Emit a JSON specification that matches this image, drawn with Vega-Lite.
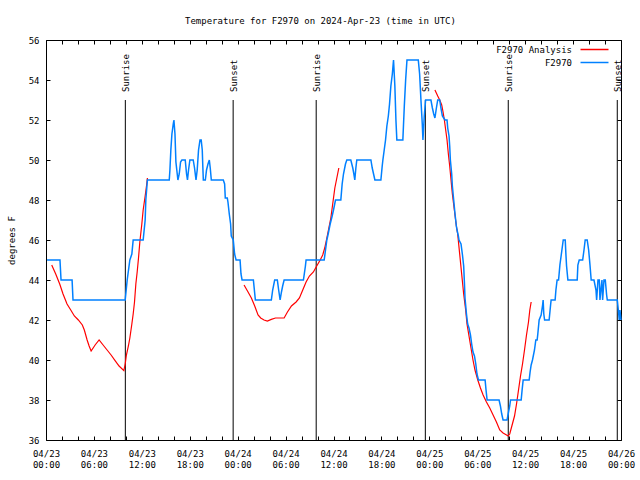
{
 "$schema": "https://vega.github.io/schema/vega-lite/v6.json",
 "width": 575, "height": 400,
 "autosize": {"type": "none"},
 "padding": {"left": 46, "top": 40, "right": 19, "bottom": 40},
 "background": "white",
 "title": {"text": "Temperature for F2970 on 2024-Apr-23 (time in UTC)", "font": "DejaVu Sans Mono", "fontSize": 9, "fontWeight": "normal", "color": "black", "anchor": "middle", "frame": "group", "baseline": "alphabetic", "offset": 3, "dx": -13},
 "config": {"view": {"stroke": "black", "strokeWidth": 1}, "font": "DejaVu Sans Mono"},
 "datasets": {
  "sun": [
   {"t": "2024-04-23T09:56:00Z", "label": "Sunrise"},
   {"t": "2024-04-23T23:26:00Z", "label": "Sunset"},
   {"t": "2024-04-24T09:50:00Z", "label": "Sunrise"},
   {"t": "2024-04-24T23:30:00Z", "label": "Sunset"},
   {"t": "2024-04-25T09:53:00Z", "label": "Sunrise"},
   {"t": "2024-04-25T23:32:00Z", "label": "Sunset"}
  ],
  "obs": [
   {"t":"2024-04-23T00:08Z","v":45},{"t":"2024-04-23T01:45Z","v":45},{"t":"2024-04-23T01:53Z","v":44},{"t":"2024-04-23T03:16Z","v":44},{"t":"2024-04-23T03:23Z","v":43},{"t":"2024-04-23T09:55Z","v":43},{"t":"2024-04-23T10:10Z","v":44},{"t":"2024-04-23T10:30Z","v":45},{"t":"2024-04-23T10:45Z","v":45.3},{"t":"2024-04-23T10:55Z","v":46},{"t":"2024-04-23T12:10Z","v":46},{"t":"2024-04-23T12:25Z","v":47},{"t":"2024-04-23T12:30Z","v":48},{"t":"2024-04-23T12:42Z","v":49},{"t":"2024-04-23T15:26Z","v":49},{"t":"2024-04-23T15:31Z","v":49.5},{"t":"2024-04-23T15:38Z","v":50.5},{"t":"2024-04-23T15:46Z","v":51.3},{"t":"2024-04-23T15:56Z","v":51.8},{"t":"2024-04-23T16:01Z","v":52},{"t":"2024-04-23T16:09Z","v":51.3},{"t":"2024-04-23T16:16Z","v":49.9},{"t":"2024-04-23T16:26Z","v":49.3},{"t":"2024-04-23T16:31Z","v":49},{"t":"2024-04-23T16:41Z","v":49.3},{"t":"2024-04-23T16:51Z","v":49.9},{"t":"2024-04-23T17:01Z","v":50},{"t":"2024-04-23T17:26Z","v":50},{"t":"2024-04-23T17:36Z","v":49.3},{"t":"2024-04-23T17:43Z","v":49},{"t":"2024-04-23T17:51Z","v":49.5},{"t":"2024-04-23T18:01Z","v":50},{"t":"2024-04-23T18:26Z","v":50},{"t":"2024-04-23T18:36Z","v":49.6},{"t":"2024-04-23T18:47Z","v":49},{"t":"2024-04-23T18:56Z","v":49.5},{"t":"2024-04-23T19:06Z","v":50.5},{"t":"2024-04-23T19:17Z","v":51},{"t":"2024-04-23T19:26Z","v":51},{"t":"2024-04-23T19:34Z","v":50.5},{"t":"2024-04-23T19:38Z","v":49.7},{"t":"2024-04-23T19:42Z","v":49},{"t":"2024-04-23T19:57Z","v":49},{"t":"2024-04-23T20:06Z","v":49.5},{"t":"2024-04-23T20:17Z","v":49.8},{"t":"2024-04-23T20:27Z","v":50},{"t":"2024-04-23T20:34Z","v":49.6},{"t":"2024-04-23T20:42Z","v":49},{"t":"2024-04-23T22:12Z","v":49},{"t":"2024-04-23T22:22Z","v":48.8},{"t":"2024-04-23T22:27Z","v":48.1},{"t":"2024-04-23T22:42Z","v":48.1},{"t":"2024-04-23T22:47Z","v":47.9},{"t":"2024-04-23T22:57Z","v":47.3},{"t":"2024-04-23T23:07Z","v":46.8},{"t":"2024-04-23T23:12Z","v":46.2},{"t":"2024-04-23T23:27Z","v":46},{"t":"2024-04-23T23:37Z","v":45.3},{"t":"2024-04-23T23:48Z","v":45},
   {"t":"2024-04-24T00:18Z","v":45},{"t":"2024-04-24T00:25Z","v":44.3},{"t":"2024-04-24T00:33Z","v":44},{"t":"2024-04-24T01:58Z","v":44},{"t":"2024-04-24T02:13Z","v":43},{"t":"2024-04-24T04:13Z","v":43},{"t":"2024-04-24T04:23Z","v":43.5},{"t":"2024-04-24T04:38Z","v":44},{"t":"2024-04-24T04:58Z","v":44},{"t":"2024-04-24T05:08Z","v":43.5},{"t":"2024-04-24T05:19Z","v":43},{"t":"2024-04-24T05:29Z","v":43.4},{"t":"2024-04-24T05:38Z","v":43.7},{"t":"2024-04-24T05:49Z","v":44},{"t":"2024-04-24T08:14Z","v":44},{"t":"2024-04-24T08:29Z","v":44.7},{"t":"2024-04-24T08:34Z","v":45},{"t":"2024-04-24T10:50Z","v":45},{"t":"2024-04-24T11:00Z","v":45.5},{"t":"2024-04-24T11:10Z","v":46},{"t":"2024-04-24T11:20Z","v":46.3},{"t":"2024-04-24T11:35Z","v":46.8},{"t":"2024-04-24T11:50Z","v":47.2},{"t":"2024-04-24T12:00Z","v":47.5},{"t":"2024-04-24T12:15Z","v":48},{"t":"2024-04-24T12:55Z","v":48},{"t":"2024-04-24T13:05Z","v":48.8},{"t":"2024-04-24T13:15Z","v":49.3},{"t":"2024-04-24T13:30Z","v":49.8},{"t":"2024-04-24T13:40Z","v":50},{"t":"2024-04-24T14:10Z","v":50},{"t":"2024-04-24T14:25Z","v":49.6},{"t":"2024-04-24T14:33Z","v":49.3},{"t":"2024-04-24T14:40Z","v":49},{"t":"2024-04-24T14:48Z","v":49.6},{"t":"2024-04-24T14:55Z","v":50},{"t":"2024-04-24T16:41Z","v":50},{"t":"2024-04-24T16:51Z","v":49.6},{"t":"2024-04-24T17:01Z","v":49.3},{"t":"2024-04-24T17:11Z","v":49},{"t":"2024-04-24T17:56Z","v":49},{"t":"2024-04-24T18:06Z","v":49.7},{"t":"2024-04-24T18:11Z","v":50},{"t":"2024-04-24T18:21Z","v":50.5},{"t":"2024-04-24T18:31Z","v":51},{"t":"2024-04-24T18:41Z","v":51.7},{"t":"2024-04-24T18:52Z","v":52.2},{"t":"2024-04-24T19:01Z","v":52.8},{"t":"2024-04-24T19:11Z","v":53.7},{"t":"2024-04-24T19:22Z","v":54.3},{"t":"2024-04-24T19:31Z","v":55},{"t":"2024-04-24T19:41Z","v":53.7},{"t":"2024-04-24T19:49Z","v":52},{"t":"2024-04-24T19:56Z","v":51},{"t":"2024-04-24T20:41Z","v":51},{"t":"2024-04-24T20:52Z","v":52.7},{"t":"2024-04-24T21:02Z","v":54},{"t":"2024-04-24T21:12Z","v":55},{"t":"2024-04-24T22:37Z","v":55},{"t":"2024-04-24T22:47Z","v":54.3},{"t":"2024-04-24T22:57Z","v":53},{"t":"2024-04-24T23:07Z","v":51.8},{"t":"2024-04-24T23:12Z","v":51},{"t":"2024-04-24T23:22Z","v":52.2},{"t":"2024-04-24T23:32Z","v":53},
   {"t":"2024-04-25T00:12Z","v":53},{"t":"2024-04-25T00:23Z","v":52.6},{"t":"2024-04-25T00:33Z","v":52.3},{"t":"2024-04-25T00:42Z","v":52.1},{"t":"2024-04-25T00:53Z","v":52.6},{"t":"2024-04-25T01:03Z","v":53},{"t":"2024-04-25T01:18Z","v":53},{"t":"2024-04-25T01:27Z","v":52.6},{"t":"2024-04-25T01:38Z","v":52.2},{"t":"2024-04-25T01:48Z","v":52.1},{"t":"2024-04-25T01:58Z","v":52},{"t":"2024-04-25T02:13Z","v":52},{"t":"2024-04-25T02:18Z","v":51.6},{"t":"2024-04-25T02:28Z","v":51.2},{"t":"2024-04-25T02:33Z","v":50.7},{"t":"2024-04-25T02:38Z","v":50},{"t":"2024-04-25T02:48Z","v":49.3},{"t":"2024-04-25T02:53Z","v":48.7},{"t":"2024-04-25T03:03Z","v":48},{"t":"2024-04-25T03:13Z","v":47.3},{"t":"2024-04-25T03:23Z","v":46.7},{"t":"2024-04-25T03:28Z","v":46.5},{"t":"2024-04-25T03:38Z","v":46.2},{"t":"2024-04-25T03:43Z","v":46},{"t":"2024-04-25T03:58Z","v":45.8},{"t":"2024-04-25T04:09Z","v":45.25},{"t":"2024-04-25T04:18Z","v":44.7},{"t":"2024-04-25T04:24Z","v":43.8},{"t":"2024-04-25T04:28Z","v":43.1},{"t":"2024-04-25T04:39Z","v":42.3},{"t":"2024-04-25T04:48Z","v":41.8},{"t":"2024-04-25T04:58Z","v":41.6},{"t":"2024-04-25T05:09Z","v":41.25},{"t":"2024-04-25T05:18Z","v":40.8},{"t":"2024-04-25T05:28Z","v":40.4},{"t":"2024-04-25T05:39Z","v":40.2},{"t":"2024-04-25T05:49Z","v":39.8},{"t":"2024-04-25T05:58Z","v":39.3},{"t":"2024-04-25T06:09Z","v":39},{"t":"2024-04-25T06:59Z","v":39},{"t":"2024-04-25T07:06Z","v":38.5},{"t":"2024-04-25T07:14Z","v":38},{"t":"2024-04-25T08:44Z","v":38},{"t":"2024-04-25T08:54Z","v":37.7},{"t":"2024-04-25T09:04Z","v":37.3},{"t":"2024-04-25T09:14Z","v":37},{"t":"2024-04-25T09:44Z","v":37},{"t":"2024-04-25T09:55Z","v":37.4},{"t":"2024-04-25T10:04Z","v":37.7},{"t":"2024-04-25T10:10Z","v":38},{"t":"2024-04-25T11:30Z","v":38},{"t":"2024-04-25T11:37Z","v":38.5},{"t":"2024-04-25T11:45Z","v":39},{"t":"2024-04-25T12:30Z","v":39},{"t":"2024-04-25T12:37Z","v":39.4},{"t":"2024-04-25T12:45Z","v":39.75},{"t":"2024-04-25T12:55Z","v":40},{"t":"2024-04-25T13:10Z","v":40.5},{"t":"2024-04-25T13:20Z","v":41},{"t":"2024-04-25T13:30Z","v":41},{"t":"2024-04-25T13:35Z","v":41.3},{"t":"2024-04-25T13:45Z","v":42},{"t":"2024-04-25T14:00Z","v":42.25},{"t":"2024-04-25T14:11Z","v":42.75},{"t":"2024-04-25T14:15Z","v":43},{"t":"2024-04-25T14:20Z","v":42.3},{"t":"2024-04-25T14:26Z","v":42},{"t":"2024-04-25T15:00Z","v":42},{"t":"2024-04-25T15:11Z","v":42.75},{"t":"2024-04-25T15:15Z","v":43},{"t":"2024-04-25T15:45Z","v":43},{"t":"2024-04-25T15:51Z","v":43.5},{"t":"2024-04-25T16:00Z","v":44},{"t":"2024-04-25T16:11Z","v":44},{"t":"2024-04-25T16:21Z","v":44.75},{"t":"2024-04-25T16:31Z","v":45.25},{"t":"2024-04-25T16:41Z","v":45.75},{"t":"2024-04-25T16:46Z","v":46},{"t":"2024-04-25T17:01Z","v":46},{"t":"2024-04-25T17:06Z","v":45.3},{"t":"2024-04-25T17:11Z","v":44.7},{"t":"2024-04-25T17:21Z","v":44},{"t":"2024-04-25T18:31Z","v":44},{"t":"2024-04-25T18:36Z","v":44.75},{"t":"2024-04-25T18:46Z","v":45},{"t":"2024-04-25T19:12Z","v":45},{"t":"2024-04-25T19:22Z","v":45.5},{"t":"2024-04-25T19:31Z","v":46},{"t":"2024-04-25T19:46Z","v":46},{"t":"2024-04-25T19:57Z","v":45.5},{"t":"2024-04-25T20:07Z","v":44.75},{"t":"2024-04-25T20:16Z","v":44},{"t":"2024-04-25T20:37Z","v":44},{"t":"2024-04-25T20:52Z","v":43.5},{"t":"2024-04-25T20:57Z","v":43},{"t":"2024-04-25T21:02Z","v":43.5},{"t":"2024-04-25T21:07Z","v":44},{"t":"2024-04-25T21:17Z","v":44},{"t":"2024-04-25T21:22Z","v":43},{"t":"2024-04-25T21:29Z","v":43.5},{"t":"2024-04-25T21:37Z","v":44},{"t":"2024-04-25T21:42Z","v":43},{"t":"2024-04-25T21:47Z","v":43.5},{"t":"2024-04-25T21:52Z","v":44},{"t":"2024-04-25T22:02Z","v":44},{"t":"2024-04-25T22:12Z","v":43.25},{"t":"2024-04-25T22:17Z","v":43},{"t":"2024-04-25T23:32Z","v":43},{"t":"2024-04-25T23:40Z","v":42.5},{"t":"2024-04-25T23:47Z","v":42},{"t":"2024-04-25T23:52Z","v":42.5},{"t":"2024-04-26T00:00Z","v":42}
  ],
  "ana": [
   {"t":"2024-04-23T00:43Z","v":44.75,"run":1},{"t":"2024-04-23T01:13Z","v":44.3,"run":1},{"t":"2024-04-23T01:43Z","v":43.8,"run":1},{"t":"2024-04-23T02:08Z","v":43.3,"run":1},{"t":"2024-04-23T02:38Z","v":42.8,"run":1},{"t":"2024-04-23T03:06Z","v":42.5,"run":1},{"t":"2024-04-23T03:33Z","v":42.2,"run":1},{"t":"2024-04-23T04:03Z","v":42,"run":1},{"t":"2024-04-23T04:33Z","v":41.75,"run":1},{"t":"2024-04-23T04:48Z","v":41.5,"run":1},{"t":"2024-04-23T05:09Z","v":41,"run":1},{"t":"2024-04-23T05:24Z","v":40.7,"run":1},{"t":"2024-04-23T05:39Z","v":40.45,"run":1},{"t":"2024-04-23T06:09Z","v":40.75,"run":1},{"t":"2024-04-23T06:39Z","v":41,"run":1},{"t":"2024-04-23T07:09Z","v":40.75,"run":1},{"t":"2024-04-23T07:39Z","v":40.5,"run":1},{"t":"2024-04-23T08:09Z","v":40.25,"run":1},{"t":"2024-04-23T08:39Z","v":39.97,"run":1},{"t":"2024-04-23T09:09Z","v":39.7,"run":1},{"t":"2024-04-23T09:45Z","v":39.47,"run":1},{"t":"2024-04-23T09:55Z","v":39.8,"run":1},{"t":"2024-04-23T10:04Z","v":40.25,"run":1},{"t":"2024-04-23T10:19Z","v":40.7,"run":1},{"t":"2024-04-23T10:30Z","v":41.1,"run":1},{"t":"2024-04-23T10:45Z","v":41.8,"run":1},{"t":"2024-04-23T10:55Z","v":42.3,"run":1},{"t":"2024-04-23T11:05Z","v":42.9,"run":1},{"t":"2024-04-23T11:15Z","v":43.8,"run":1},{"t":"2024-04-23T11:25Z","v":44.4,"run":1},{"t":"2024-04-23T11:35Z","v":45.1,"run":1},{"t":"2024-04-23T11:45Z","v":45.9,"run":1},{"t":"2024-04-23T12:00Z","v":46.8,"run":1},{"t":"2024-04-23T12:10Z","v":47.5,"run":1},{"t":"2024-04-23T12:25Z","v":48.2,"run":1},{"t":"2024-04-23T12:35Z","v":48.7,"run":1},{"t":"2024-04-23T12:42Z","v":49.1,"run":1},
   {"t":"2024-04-24T00:48Z","v":43.75,"run":2},{"t":"2024-04-24T01:18Z","v":43.4,"run":2},{"t":"2024-04-24T01:43Z","v":43.1,"run":2},{"t":"2024-04-24T02:08Z","v":42.7,"run":2},{"t":"2024-04-24T02:33Z","v":42.25,"run":2},{"t":"2024-04-24T02:53Z","v":42.1,"run":2},{"t":"2024-04-24T03:18Z","v":42,"run":2},{"t":"2024-04-24T03:43Z","v":41.95,"run":2},{"t":"2024-04-24T04:13Z","v":42.03,"run":2},{"t":"2024-04-24T04:44Z","v":42.1,"run":2},{"t":"2024-04-24T05:14Z","v":42.1,"run":2},{"t":"2024-04-24T05:49Z","v":42.1,"run":2},{"t":"2024-04-24T06:14Z","v":42.4,"run":2},{"t":"2024-04-24T06:44Z","v":42.7,"run":2},{"t":"2024-04-24T07:19Z","v":42.9,"run":2},{"t":"2024-04-24T07:44Z","v":43.1,"run":2},{"t":"2024-04-24T08:09Z","v":43.5,"run":2},{"t":"2024-04-24T08:34Z","v":43.9,"run":2},{"t":"2024-04-24T08:59Z","v":44.2,"run":2},{"t":"2024-04-24T09:29Z","v":44.4,"run":2},{"t":"2024-04-24T09:54Z","v":44.7,"run":2},{"t":"2024-04-24T10:20Z","v":45,"run":2},{"t":"2024-04-24T10:39Z","v":45.25,"run":2},{"t":"2024-04-24T10:54Z","v":45.6,"run":2},{"t":"2024-04-24T11:10Z","v":46.1,"run":2},{"t":"2024-04-24T11:25Z","v":46.6,"run":2},{"t":"2024-04-24T11:40Z","v":47.1,"run":2},{"t":"2024-04-24T11:50Z","v":47.6,"run":2},{"t":"2024-04-24T12:00Z","v":48.1,"run":2},{"t":"2024-04-24T12:10Z","v":48.6,"run":2},{"t":"2024-04-24T12:25Z","v":49.1,"run":2},{"t":"2024-04-24T12:40Z","v":49.6,"run":2},
   {"t":"2024-04-25T00:42Z","v":53.5,"run":3},{"t":"2024-04-25T01:03Z","v":53.2,"run":3},{"t":"2024-04-25T01:18Z","v":53,"run":3},{"t":"2024-04-25T01:33Z","v":52.75,"run":3},{"t":"2024-04-25T01:43Z","v":52.4,"run":3},{"t":"2024-04-25T01:53Z","v":52,"run":3},{"t":"2024-04-25T02:03Z","v":51.5,"run":3},{"t":"2024-04-25T02:13Z","v":51,"run":3},{"t":"2024-04-25T02:23Z","v":50.3,"run":3},{"t":"2024-04-25T02:33Z","v":49.7,"run":3},{"t":"2024-04-25T02:43Z","v":49,"run":3},{"t":"2024-04-25T02:53Z","v":48.3,"run":3},{"t":"2024-04-25T03:08Z","v":47.5,"run":3},{"t":"2024-04-25T03:23Z","v":46.7,"run":3},{"t":"2024-04-25T03:33Z","v":46.3,"run":3},{"t":"2024-04-25T03:48Z","v":45.3,"run":3},{"t":"2024-04-25T04:03Z","v":44.3,"run":3},{"t":"2024-04-25T04:18Z","v":43.3,"run":3},{"t":"2024-04-25T04:33Z","v":42.5,"run":3},{"t":"2024-04-25T04:43Z","v":41.8,"run":3},{"t":"2024-04-25T04:58Z","v":41.2,"run":3},{"t":"2024-04-25T05:13Z","v":40.6,"run":3},{"t":"2024-04-25T05:28Z","v":40,"run":3},{"t":"2024-04-25T05:43Z","v":39.5,"run":3},{"t":"2024-04-25T06:04Z","v":39,"run":3},{"t":"2024-04-25T06:24Z","v":38.6,"run":3},{"t":"2024-04-25T06:44Z","v":38.25,"run":3},{"t":"2024-04-25T07:09Z","v":37.9,"run":3},{"t":"2024-04-25T07:34Z","v":37.6,"run":3},{"t":"2024-04-25T07:59Z","v":37.25,"run":3},{"t":"2024-04-25T08:24Z","v":36.9,"run":3},{"t":"2024-04-25T08:49Z","v":36.5,"run":3},{"t":"2024-04-25T09:14Z","v":36.35,"run":3},{"t":"2024-04-25T09:40Z","v":36.25,"run":3},{"t":"2024-04-25T09:52Z","v":36.2,"run":3},{"t":"2024-04-25T10:04Z","v":36.3,"run":3},{"t":"2024-04-25T10:20Z","v":36.7,"run":3},{"t":"2024-04-25T10:40Z","v":37.2,"run":3},{"t":"2024-04-25T10:55Z","v":37.8,"run":3},{"t":"2024-04-25T11:10Z","v":38.5,"run":3},{"t":"2024-04-25T11:25Z","v":39.2,"run":3},{"t":"2024-04-25T11:40Z","v":39.8,"run":3},{"t":"2024-04-25T11:55Z","v":40.5,"run":3},{"t":"2024-04-25T12:10Z","v":41.25,"run":3},{"t":"2024-04-25T12:25Z","v":41.9,"run":3},{"t":"2024-04-25T12:35Z","v":42.5,"run":3},{"t":"2024-04-25T12:45Z","v":42.9,"run":3}
  ]
 },
 "layer": [
  {
   "data": {"name": "sun"},
   "mark": {"type": "rule", "color": "black", "strokeWidth": 1},
   "encoding": {
    "x": {"field": "t", "type": "temporal", "axis": null, "scale": {"type": "utc", "domain": [1713830400000, 1714089600000]}},
    "y": {"datum": 53, "type": "quantitative", "axis": null, "scale": {"domain": [36, 56], "nice": false, "zero": false}},
    "y2": {"datum": 36}
   }
  },
  {
   "data": {"name": "sun"},
   "mark": {"type": "text", "angle": 270, "align": "left", "baseline": "middle", "dx": 8, "dy": 1, "font": "DejaVu Sans Mono", "fontSize": 9, "color": "black"},
   "encoding": {
    "x": {"field": "t", "type": "temporal", "axis": null},
    "y": {"datum": 53, "type": "quantitative", "axis": null},
    "text": {"field": "label"}
   }
  },
  {
   "data": {"name": "ana"},
   "mark": {"type": "line", "strokeWidth": 1.2},
   "encoding": {
    "x": {"field": "t", "type": "temporal", "axis": {"orient": "top", "title": null, "labels": false, "domain": false, "grid": false, "values": [1713830400000,1713837600000,1713844800000,1713852000000,1713859200000,1713866400000,1713873600000,1713880800000,1713888000000,1713895200000,1713902400000,1713909600000,1713916800000,1713924000000,1713931200000,1713938400000,1713945600000,1713952800000,1713960000000,1713967200000,1713974400000,1713981600000,1713988800000,1713996000000,1714003200000,1714010400000,1714017600000,1714024800000,1714032000000,1714039200000,1714046400000,1714053600000,1714060800000,1714068000000,1714075200000,1714082400000,1714089600000], "tickSize": -4, "tickColor": "black"}},
    "y": {"field": "v", "type": "quantitative", "axis": {"orient": "right", "title": null, "labels": false, "domain": false, "grid": false, "values": [36, 38, 40, 42, 44, 46, 48, 50, 52, 54, 56], "tickSize": -4, "tickColor": "black"}},
    "detail": {"field": "run"},
    "color": {"datum": "F2970 Analysis", "type": "nominal"}
   }
  },
  {
   "data": {"name": "obs"},
   "mark": {"type": "line", "strokeWidth": 1.5},
   "encoding": {
    "x": {"field": "t", "type": "temporal", "axis": {"orient": "bottom", "title": null, "domain": false, "grid": false, "values": [1713830400000,1713837600000,1713844800000,1713852000000,1713859200000,1713866400000,1713873600000,1713880800000,1713888000000,1713895200000,1713902400000,1713909600000,1713916800000,1713924000000,1713931200000,1713938400000,1713945600000,1713952800000,1713960000000,1713967200000,1713974400000,1713981600000,1713988800000,1713996000000,1714003200000,1714010400000,1714017600000,1714024800000,1714032000000,1714039200000,1714046400000,1714053600000,1714060800000,1714068000000,1714075200000,1714082400000,1714089600000], "tickSize": -4, "tickColor": "black", "labelExpr": "utchours(datum.value) % 6 == 0 ? [utcFormat(datum.value, '%m/%d'), utcFormat(datum.value, '%H:%M')] : ''", "labelFont": "DejaVu Sans Mono", "labelFontSize": 9, "labelColor": "black", "labelOverlap": false, "labelFlush": false, "labelBound": false, "labelPadding": 13, "labelLineHeight": 11, "labelBaseline": "top"}},
    "y": {"field": "v", "type": "quantitative", "axis": {"orient": "left", "title": "degrees F", "domain": false, "grid": false, "values": [36, 38, 40, 42, 44, 46, 48, 50, 52, 54, 56], "tickSize": -4, "tickColor": "black", "labelFont": "DejaVu Sans Mono", "labelFontSize": 9, "labelColor": "black", "labelPadding": 11, "labelFlush": false, "titleFont": "DejaVu Sans Mono", "titleFontSize": 9, "titleFontWeight": "normal", "titleColor": "black", "titlePadding": 12}},
    "color": {"datum": "F2970", "type": "nominal", "scale": {"domain": ["F2970 Analysis", "F2970"], "range": ["#ff0000", "#0080ff"]}, "legend": {"orient": "none", "legendX": 543, "legendY": 4, "title": null, "padding": 0, "symbolType": "M-3,0L3,0", "symbolSize": 87, "symbolStrokeWidth": 1.5, "labelFont": "DejaVu Sans Mono", "labelFontSize": 9, "labelColor": "black", "labelAlign": "right", "labelOffset": -28, "rowPadding": 2}}
   }
  }
 ],
 "resolve": {"axis": {"x": "independent", "y": "independent"}}
}
